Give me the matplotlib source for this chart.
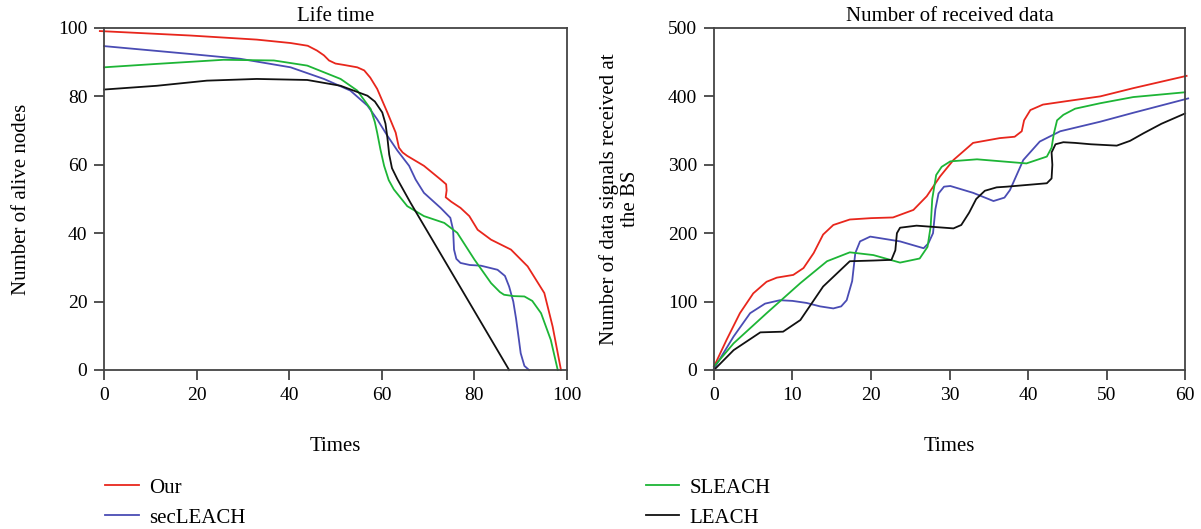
import matplotlib
matplotlib.use("Agg")
import matplotlib.pyplot as plt

plt.rcParams['font.family'] = ['Liberation Serif', 'DejaVu Serif']
plt.rcParams['font.size'] = 15

# Life time (left)
our_x = [-0.9, 18.6, 33, 40.3, 44, 46, 47.5, 48.6, 50, 51.8, 54.7, 56.2, 57.5, 59, 61.2, 63, 63.7, 64.5, 65.5, 69.1, 72.7, 73.9, 74, 73.8, 75, 77, 78.9, 80.7, 83.6, 87.9, 91.5, 95.1, 96.9, 98.7]
our_y = [99.1, 97.8, 96.6, 95.6, 94.8, 93.4, 92, 90.5, 89.6, 89.2, 88.5, 87.6, 85.5, 82.2, 75.3, 69.4, 65, 63.6, 62.6, 59.7, 55.7, 54.3, 52.5, 50.5, 49.2, 47.4, 45, 41, 38.1, 35.2, 30.3, 22.5, 12.7, 0]
sec_x = [0, 18.6, 29.4, 40.3, 47.5, 53.2, 56.9, 59, 61.2, 63.4, 65.9, 67.3, 69.1, 72.7, 74.8, 75.4, 75.6, 76.1, 77, 79, 81.4, 85, 86.6, 87.5, 88.4, 89, 89.6, 90, 90.8, 91.8]
sec_y = [94.7, 92.4, 91, 88.5, 85.1, 81.7, 77.3, 73.3, 68.5, 64.1, 59.7, 55.7, 51.8, 47.4, 44.5, 41, 35.2, 32.5, 31.3, 30.7, 30.5, 29.3, 27.5, 24.4, 20, 15, 9, 4.9, 1.2, 0]
sl_x = [0, 11.4, 25.8, 36.7, 43.9, 51.1, 54.7, 57.6, 58.5, 59, 59.7, 60.5, 61.5, 62.6, 65.5, 69.1, 73.5, 76.3, 80, 83.6, 85.5, 86.4, 88.5, 90.8, 92.5, 94.4, 96.5, 98]
sl_y = [88.5, 89.5, 90.7, 90.5, 89, 85.1, 81.7, 76.3, 72.5, 69.4, 64.5, 59.7, 55.5, 52.8, 47.9, 45, 43, 40.1, 32.3, 25.4, 22.8, 22, 21.6, 21.5, 20.2, 16.6, 8.8, 0]
le_x = [0, 11.4, 22.2, 33, 43.9, 51.1, 56.9, 58.5, 60.1, 60.8, 61.2, 61.6, 62.2, 63.4, 66.2, 87.5]
le_y = [82, 83.1, 84.6, 85.1, 84.8, 83.1, 80.2, 78.5, 75.3, 72, 68, 63, 59, 55.7, 48.9, 0]

# Number of received data (right)
our2_x = [0, 1.6, 3.3, 5, 6.7, 8, 10.1, 11.4, 12.7, 13.9, 15.2, 17.3, 20, 22.8, 25.4, 27.1, 28.8, 30.5, 33, 36.4, 38.3, 39.2, 39.5, 40.3, 41.9, 44.9, 49.2, 53.4, 60.2]
our2_y = [5, 44, 83, 112, 129, 135, 139, 149, 171, 198, 212, 220, 222, 223, 234, 254, 283, 307, 332, 339, 341, 349, 365, 380, 388, 393, 400, 412, 430]
sec2_x = [0, 2.5, 4.6, 6.5, 8.4, 10, 11.8, 13.5, 15.2, 16.2, 16.9, 17.6, 18, 18.6, 19.9, 23.7, 26.7, 27.3, 27.9, 28.2, 28.6, 29.3, 30.1, 33, 35.6, 37, 37.7, 39.4, 41.5, 44.1, 49.2, 53.4, 60.4]
sec2_y = [2, 49, 83, 97, 102, 101, 98, 93, 90, 93, 102, 130, 171, 188, 195, 188, 178, 185, 200, 235, 258, 268, 269, 259, 247, 252, 263, 307, 334, 349, 363, 376, 397]
sl2_x = [0, 2.5, 6.7, 11, 14.4, 17.3, 20.3, 23.7, 26.2, 27.2, 27.6, 27.8, 28.3, 29, 30.1, 33.5, 39.8, 42.4, 43, 43.3, 43.7, 44.5, 46, 49.2, 53.4, 60]
sl2_y = [5, 39, 83, 127, 159, 172, 168, 157, 163, 180, 210, 250, 285, 297, 305, 308, 302, 312, 325, 346, 365, 373, 382, 390, 399, 406]
le2_x = [0, 2.5, 5.9, 8.8, 11, 13.9, 17.3, 20.3, 22.6, 23.1, 23.3, 23.7, 25.8, 30.5, 31.5, 32.5, 33.4, 34.5, 36, 37.3, 42.4, 43, 43.1, 43, 43.5, 44.5, 46, 48, 51.3, 53, 54.7, 57, 60]
le2_y = [0, 29, 55, 56, 73, 122, 159, 160, 161, 175, 200, 208, 211, 207, 212, 230, 250, 262, 267, 268, 273, 280, 300, 318, 330, 333, 332, 330, 328, 335, 346, 360, 375]

names = ['Our', 'secLEACH', 'SLEACH', 'LEACH']
colors = ['#e8261c', '#4a4cb4', '#1db536', '#111111']

fig = plt.figure(figsize=(12.01, 5.29), dpi=100)
ax1 = fig.add_axes([0.0866, 0.3006, 0.3855, 0.6465])
ax2 = fig.add_axes([0.5945, 0.3006, 0.3922, 0.6465])

left_series = [(our_x, our_y), (sec_x, sec_y), (sl_x, sl_y), (le_x, le_y)]
right_series = [(our2_x, our2_y), (sec2_x, sec2_y), (sl2_x, sl2_y), (le2_x, le2_y)]

lines = []
for (x, y), c, n in zip(left_series, colors, names):
    l, = ax1.plot(x, y, color=c, lw=1.3, label=n, clip_on=False)
    lines.append(l)
for (x, y), c in zip(right_series, colors):
    ax2.plot(x, y, color=c, lw=1.3, clip_on=False)

ax1.set_xlim(0, 100)
ax1.set_ylim(0, 100)
ax1.set_xticks([0, 20, 40, 60, 80, 100])
ax1.set_yticks([0, 20, 40, 60, 80, 100])
ax1.set_title('Life time', fontsize=15, pad=5)
ax1.set_xlabel('Times')
ax1.set_ylabel('Number of alive nodes')
ax1.xaxis.set_label_coords(0.5, -0.195)
ax1.yaxis.set_label_coords(-0.157, 0.5)

ax2.set_xlim(0, 60)
ax2.set_ylim(0, 500)
ax2.set_xticks([0, 10, 20, 30, 40, 50, 60])
ax2.set_yticks([0, 100, 200, 300, 400, 500])
ax2.set_title('Number of received data', fontsize=15, pad=5)
ax2.set_xlabel('Times')
ax2.set_ylabel('Number of data signals received at\nthe BS', linespacing=1.1)
ax2.xaxis.set_label_coords(0.5, -0.195)
ax2.yaxis.set_label_coords(-0.158, 0.5)

for ax in (ax1, ax2):
    for s in ax.spines.values():
        s.set_color('#444444')
        s.set_linewidth(1.3)
    ax.tick_params(direction='out', length=7, width=1.3, color='#444444', labelsize=14, pad=5)

fig.legend(lines[:2], names[:2], loc='upper left', bbox_to_anchor=(0.072, 0.132),
           frameon=False, handlelength=1.6, handletextpad=0.5, labelspacing=0.5, fontsize=15)
fig.legend(lines[2:], names[2:], loc='upper left', bbox_to_anchor=(0.522, 0.132),
           frameon=False, handlelength=1.6, handletextpad=0.5, labelspacing=0.5, fontsize=15)

fig.savefig('out.png', dpi=100)
